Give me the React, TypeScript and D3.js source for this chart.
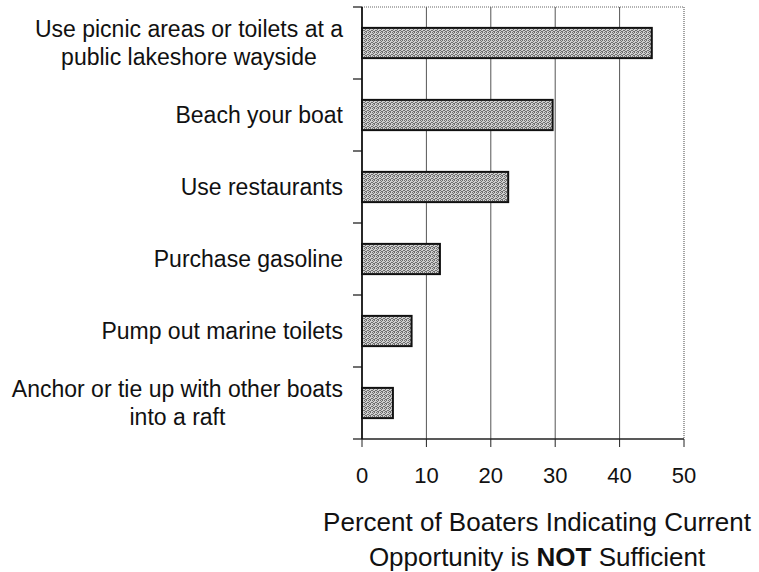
import { useEffect, useRef } from "react";
import * as d3 from "d3";

// Chart data
const categories: string[][] = [
  ["Use picnic areas or toilets at a", "public lakeshore wayside"],
  ["Beach your boat"],
  ["Use restaurants"],
  ["Purchase gasoline"],
  ["Pump out marine toilets"],
  ["Anchor or tie up with other boats", "into a raft"],
];
const values: number[] = [45.0, 29.6, 22.7, 12.1, 7.7, 4.8];
const xTicks: number[] = [0, 10, 20, 30, 40, 50];

const FONT = "'Liberation Sans', Arial, Helvetica, sans-serif";

export default function App() {
  const svgRef = useRef<SVGSVGElement>(null);

  useEffect(() => {
    if (!svgRef.current) return;
    const svg = d3.select(svgRef.current);
    svg.selectAll("*").remove();

    const width = 759;
    const height = 572;
    const left = 362;
    const right = 684;
    const top = 7;
    const bottom = 439;

    const x = d3.scaleLinear().domain([0, 50]).range([left, right]);
    const keys = categories.map((c) => c.join(" "));
    const y = d3
      .scaleBand<string>()
      .domain(keys)
      .range([top, bottom])
      .paddingInner(0.58)
      .paddingOuter(0.29);

    svg.attr("width", width).attr("height", height);

    // halftone-ish pattern for the bars
    const defs = svg.append("defs");
    const pat = defs
      .append("pattern")
      .attr("id", "dots")
      .attr("width", 4)
      .attr("height", 4)
      .attr("patternUnits", "userSpaceOnUse");
    pat.append("rect").attr("width", 4).attr("height", 4).attr("fill", "#cfcfcf");
    [
      [0, 0],
      [2, 0],
      [1, 1],
      [3, 2],
      [0, 2],
      [2, 3],
      [1, 3],
    ].forEach(([px, py]) =>
      pat.append("rect").attr("x", px).attr("y", py).attr("width", 1).attr("height", 1).attr("fill", "#6e6e6e")
    );

    // Gridlines
    svg
      .append("g")
      .selectAll("line")
      .data(xTicks.filter((t) => t > 0 && t < 50))
      .join("line")
      .attr("x1", (d) => x(d))
      .attr("x2", (d) => x(d))
      .attr("y1", top)
      .attr("y2", bottom)
      .attr("stroke", "#555")
      .attr("stroke-width", 1);

    // dotted frame (top, right)
    svg
      .append("path")
      .attr("d", `M${left},${top}H${right}V${bottom}`)
      .attr("fill", "none")
      .attr("stroke", "#666")
      .attr("stroke-width", 1.2)
      .attr("stroke-dasharray", "1,1");

    // Bars
    svg
      .append("g")
      .selectAll("rect")
      .data(values)
      .join("rect")
      .attr("x", x(0))
      .attr("y", (_, i) => y(keys[i]) as number)
      .attr("width", (d) => x(d) - x(0))
      .attr("height", y.bandwidth())
      .attr("fill", "url(#dots)")
      .attr("stroke", "#111")
      .attr("stroke-width", 2);

    // Bottom axis
    svg
      .append("line")
      .attr("x1", left)
      .attr("x2", right)
      .attr("y1", bottom)
      .attr("y2", bottom)
      .attr("stroke", "#222")
      .attr("stroke-width", 1.5);
    svg
      .append("g")
      .selectAll("line")
      .data(xTicks)
      .join("line")
      .attr("x1", (d) => x(d))
      .attr("x2", (d) => x(d))
      .attr("y1", bottom)
      .attr("y2", bottom + 8)
      .attr("stroke", "#222")
      .attr("stroke-width", 1);
    svg
      .append("g")
      .selectAll("text")
      .data(xTicks)
      .join("text")
      .attr("x", (d) => x(d))
      .attr("y", 483)
      .attr("text-anchor", "middle")
      .attr("font-family", FONT)
      .attr("font-size", 22)
      .attr("fill", "#111")
      .text((d) => d);

    // Left axis
    svg
      .append("line")
      .attr("x1", left)
      .attr("x2", left)
      .attr("y1", top)
      .attr("y2", bottom)
      .attr("stroke", "#111")
      .attr("stroke-width", 1.8);
    const step = y.step();
    svg
      .append("g")
      .selectAll("line")
      .data(d3.range(categories.length + 1))
      .join("line")
      .attr("x1", left - 9)
      .attr("x2", left)
      .attr("y1", (i) => top + i * step)
      .attr("y2", (i) => top + i * step)
      .attr("stroke", "#111")
      .attr("stroke-width", 1.2);

    // Category labels (lines centred within a right-aligned block)
    const lineH = 28;
    const labelRight = 343;
    categories.forEach((lines, i) => {
      const cy = (y(keys[i]) as number) + y.bandwidth() / 2;
      const g = svg.append("g");
      const texts = g
        .selectAll("text")
        .data(lines)
        .join("text")
        .attr("y", (_, j) => cy + (j - (lines.length - 1) / 2) * lineH + 8)
        .attr("text-anchor", "middle")
        .attr("font-family", FONT)
        .attr("font-size", 23)
        .attr("fill", "#111")
        .text((d) => d);
      let maxW = 0;
      texts.each(function () {
        maxW = Math.max(maxW, (this as SVGTextElement).getComputedTextLength());
      });
      texts.attr("x", labelRight - maxW / 2);
    });

    // Axis title
    const title = svg
      .append("text")
      .attr("text-anchor", "middle")
      .attr("font-family", FONT)
      .attr("font-size", 26)
      .attr("fill", "#111");
    title.append("tspan").attr("x", 537).attr("y", 531).text("Percent of Boaters Indicating Current");
    const l2 = title.append("tspan").attr("x", 537).attr("y", 566);
    l2.append("tspan").text("Opportunity is ");
    l2.append("tspan").attr("font-weight", "bold").text("NOT");
    l2.append("tspan").text(" Sufficient");
  }, []);

  return (
    <div style={{ position: "absolute", left: 0, top: 0, background: "#fff" }}>
      <svg ref={svgRef} style={{ display: "block" }}></svg>
    </div>
  );
}
